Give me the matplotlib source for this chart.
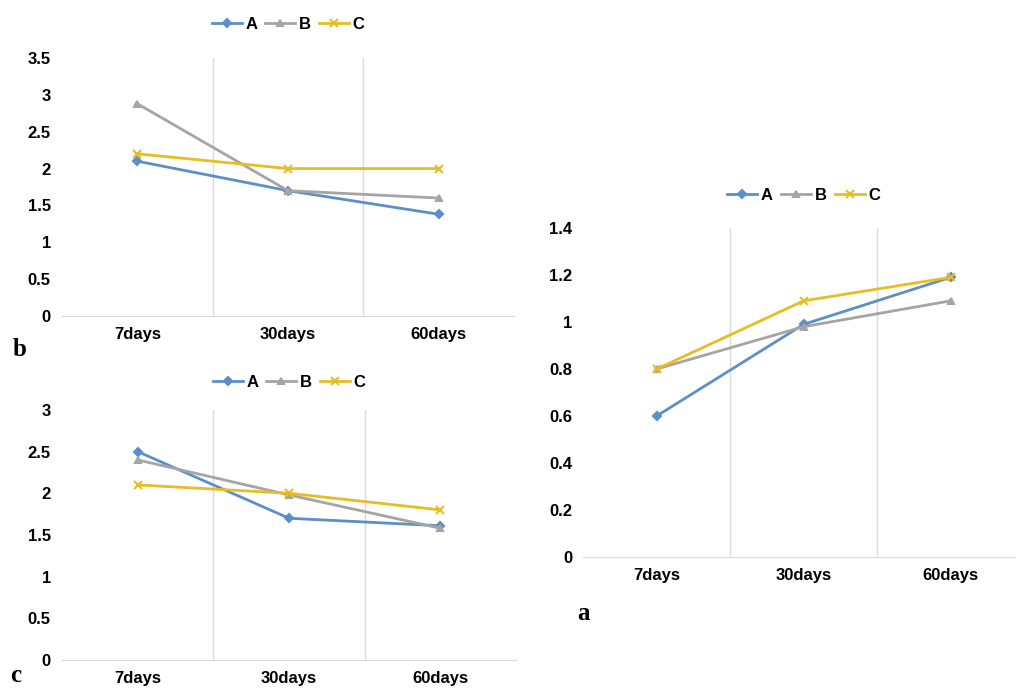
import matplotlib
matplotlib.use("Agg")
import matplotlib.pyplot as plt
from matplotlib.ticker import FuncFormatter

categories = ["7days", "30days", "60days"]
series_names = ["A", "B", "C"]

b_A = [2.1, 1.7, 1.38]
b_B = [2.88, 1.7, 1.6]
b_C = [2.2, 2.0, 2.0]

c_A = [2.5, 1.7, 1.61]
c_B = [2.4, 1.98, 1.58]
c_C = [2.1, 2.0, 1.8]

a_A = [0.6, 0.99, 1.19]
a_B = [0.8, 0.98, 1.09]
a_C = [0.8, 1.09, 1.19]

colors = ["#5B8FC9", "#A5A5A5", "#E6BE22"]
markers = ["D", "^", "x"]
msizes = [4, 5, 6]

plt.rcParams['font.family'] = ['Liberation Sans', 'DejaVu Sans']

fig = plt.figure(figsize=(10.16, 6.89), dpi=100)

def fmt(v, pos):
    s = f"{v:.1f}"
    if s.endswith(".0"):
        s = s[:-2]
    return s

def panel(rect, data, ylim, yticks, legend_y):
    ax = fig.add_axes(rect)
    x = list(range(len(categories)))
    handles = []
    for vals, name, col, mk, ms in zip(data, series_names, colors, markers, msizes):
        h, = ax.plot(x, vals, color=col, lw=2, marker=mk, ms=ms, mew=1.5, label=name)
        handles.append(h)
    ax.set_xlim(-0.5, 2.5)
    ax.set_ylim(*ylim)
    ax.set_yticks(yticks)
    ax.yaxis.set_major_formatter(FuncFormatter(fmt))
    ax.set_xticks(x)
    ax.set_xticklabels(categories)
    for xb in [0.5, 1.5]:
        ax.axvline(xb, color="#D9D9D9", lw=1, zorder=0)
    for s in ["top", "right", "left"]:
        ax.spines[s].set_visible(False)
    ax.spines["bottom"].set_color("#D9D9D9")
    ax.tick_params(length=0, labelsize=12, pad=8)
    for lab in ax.get_xticklabels() + ax.get_yticklabels():
        lab.set_fontweight("bold")
    ax.legend(handles=handles, loc="center", bbox_to_anchor=(0.5, legend_y),
              ncol=3, frameon=False, handlelength=1.8, handletextpad=0.2,
              columnspacing=0.5, prop={"weight": "bold", "size": 12})
    return ax

panel([0.061, 0.5414, 0.445, 0.3744], [b_A, b_B, b_C], (0, 3.5),
      [0, 0.5, 1, 1.5, 2, 2.5, 3, 3.5], 1.13)
panel([0.061, 0.0421, 0.447, 0.363], [c_A, c_B, c_C], (0, 3),
      [0, 0.5, 1, 1.5, 2, 2.5, 3], 1.11)
panel([0.574, 0.1916, 0.434, 0.4775], [a_A, a_B, a_C], (0, 1.4),
      [0, 0.2, 0.4, 0.6, 0.8, 1.0, 1.2, 1.4], 1.1)

fig.text(0.012, 1 - 350/689, "b", family="Liberation Serif", weight="bold", fontsize=18, va="center")
fig.text(0.010, 1 - 676/689, "c", family="Liberation Serif", weight="bold", fontsize=18, va="center")
fig.text(0.568, 1 - 614/689, "a", family="Liberation Serif", weight="bold", fontsize=18, va="center")

fig.savefig("out.png", dpi=100, facecolor="white")
